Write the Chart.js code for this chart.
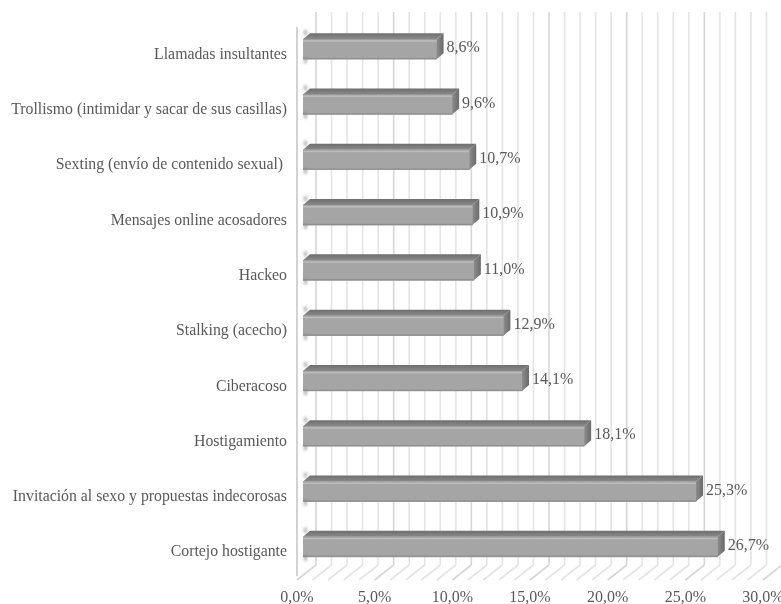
<!DOCTYPE html>
<html>
<head>
<meta charset="utf-8">
<script src="https://cdn.jsdelivr.net/npm/chart.js@4.4.1/dist/chart.umd.min.js"></script>
<style>
  html, body { margin: 0; padding: 0; background: #ffffff; }
  #wrap { width: 781px; height: 604px; position: relative; }
</style>
</head>
<body>
<div id="wrap"><canvas id="c" width="781" height="604"></canvas></div>
<script>
const categories = [
  "Llamadas insultantes",
  "Trollismo (intimidar y sacar de sus casillas)",
  "Sexting (envío de contenido sexual) ",
  "Mensajes online acosadores",
  "Hackeo",
  "Stalking (acecho)",
  "Ciberacoso",
  "Hostigamiento",
  "Invitación al sexo y propuestas indecorosas",
  "Cortejo hostigante"
];
const values = [8.6, 9.6, 10.7, 10.9, 11.0, 12.9, 14.1, 18.1, 25.3, 26.7];
const axisMin = 0;
const axisMax = 30;
const labelStep = 5;
const gridStep = 1;

const FONT = "'Liberation Serif', 'Times New Roman', serif";
const TEXT = '#595959';
const fmt = v => v.toFixed(1).replace('.', ',') + '%';

// 3D geometry (pixels)
const WALL_DX = 19, WALL_DY = 15;   // depth of the walls
const BAR_OX = 6, BAR_OY = -5.5;    // bar front face offset from front plane
const BAR_DX = 7, BAR_DY = 6;       // bar depth

const wallsPlugin = {
  id: 'walls',
  beforeDatasetsDraw(chart) {
    const ctx = chart.ctx, xs = chart.scales.x, a = chart.chartArea;
    ctx.save();
    ctx.lineWidth = 1.6;
    for (let v = axisMin; v <= axisMax; v += gridStep) {
      const fx = xs.getPixelForValue(v);
      ctx.strokeStyle = (v % labelStep === 0) ? '#d6d6d6' : '#e4e4e4';
      ctx.beginPath();
      ctx.moveTo(fx + WALL_DX, a.top - WALL_DY);
      ctx.lineTo(fx + WALL_DX, a.bottom - WALL_DY);
      ctx.stroke();
      ctx.beginPath();
      ctx.moveTo(fx, a.bottom);
      ctx.lineTo(fx + WALL_DX, a.bottom - WALL_DY);
      ctx.stroke();
    }
    ctx.strokeStyle = '#d2d2d2';
    ctx.lineWidth = 2;
    ctx.beginPath();
    ctx.moveTo(a.left, a.top);
    ctx.lineTo(a.left, a.bottom - 4);
    ctx.stroke();
    ctx.restore();
    // shift bars to mid depth
    ctx.save();
    ctx.translate(BAR_OX, BAR_OY);
  },
  afterDatasetsDraw(chart) {
    const ctx = chart.ctx;
    ctx.restore();
    const meta = chart.getDatasetMeta(0);
    ctx.save();
    meta.data.forEach((bar, i) => {
      const p = bar.getProps(['x', 'y', 'base', 'height'], true);
      const x0 = p.base + BAR_OX, x1 = p.x + BAR_OX;
      const top = p.y - p.height / 2 + BAR_OY, bot = p.y + p.height / 2 + BAR_OY;
      // wall shadow at the left end
      ctx.save();
      ctx.filter = 'blur(1.5px)';
      ctx.fillStyle = 'rgba(70,70,70,0.45)';
      ctx.fillRect(x0 + 1, top - BAR_DY - 3, 3, 5);
      ctx.fillRect(x0 + 1, bot - 1, 3, 5);
      ctx.restore();
      // top face
      const g = ctx.createLinearGradient(0, top - BAR_DY, 0, top);
      g.addColorStop(0, '#6e6e6e');
      g.addColorStop(1, '#8a8a8a');
      ctx.fillStyle = g;
      ctx.beginPath();
      ctx.moveTo(x0, top);
      ctx.lineTo(x1, top);
      ctx.lineTo(x1 + BAR_DX, top - BAR_DY);
      ctx.lineTo(x0 + BAR_DX, top - BAR_DY);
      ctx.closePath();
      ctx.fill();
      // right cap
      const gc = ctx.createLinearGradient(x1, 0, x1 + BAR_DX, 0);
      gc.addColorStop(0, '#8c8c8c');
      gc.addColorStop(1, '#6a6a6a');
      ctx.fillStyle = gc;
      ctx.beginPath();
      ctx.moveTo(x1, top);
      ctx.lineTo(x1 + BAR_DX, top - BAR_DY);
      ctx.lineTo(x1 + BAR_DX, bot - BAR_DY);
      ctx.lineTo(x1, bot);
      ctx.closePath();
      ctx.fill();
      // highlight & edge lines on front face
      ctx.fillStyle = '#bcbcbc';
      ctx.fillRect(x0, top + 1, x1 - x0, 1.5);
      ctx.fillStyle = '#8e8e8e';
      ctx.fillRect(x0, bot - 1.2, x1 - x0, 1.2);
      // value label
      ctx.fillStyle = TEXT;
      ctx.font = "16px " + FONT;
      ctx.textAlign = 'left';
      ctx.textBaseline = 'middle';
      ctx.fillText(fmt(values[i]), x1 + BAR_DX + 3, (top + bot) / 2 - 1);
    });
    ctx.restore();
  }
};

new Chart(document.getElementById('c'), {
  type: 'bar',
  data: {
    labels: categories,
    datasets: [{
      data: values,
      backgroundColor: '#a5a5a5',
      borderWidth: 0,
      barThickness: 20
    }]
  },
  options: {
    indexAxis: 'y',
    responsive: false,
    animation: false,
    layout: { padding: { left: 0, right: 0, top: 27, bottom: 0 } },
    plugins: { legend: { display: false }, tooltip: { enabled: false } },
    scales: {
      x: {
        min: axisMin, max: axisMax,
        grid: { display: false, drawTicks: false },
        border: { display: false },
        afterFit(s) { s.height = 24; s.paddingRight = 18; },
        ticks: {
          stepSize: labelStep,
          padding: 8,
          color: TEXT,
          font: { family: FONT, size: 16 },
          maxRotation: 0,
          callback: v => fmt(v)
        }
      },
      y: {
        grid: { display: false, drawTicks: false },
        border: { display: false },
        afterFit(s) { s.width = 297; },
        ticks: {
          padding: 10,
          color: TEXT,
          font: { family: FONT, size: 15.8 },
          autoSkip: false
        }
      }
    }
  },
  plugins: [wallsPlugin]
});
</script>
</body>
</html>
